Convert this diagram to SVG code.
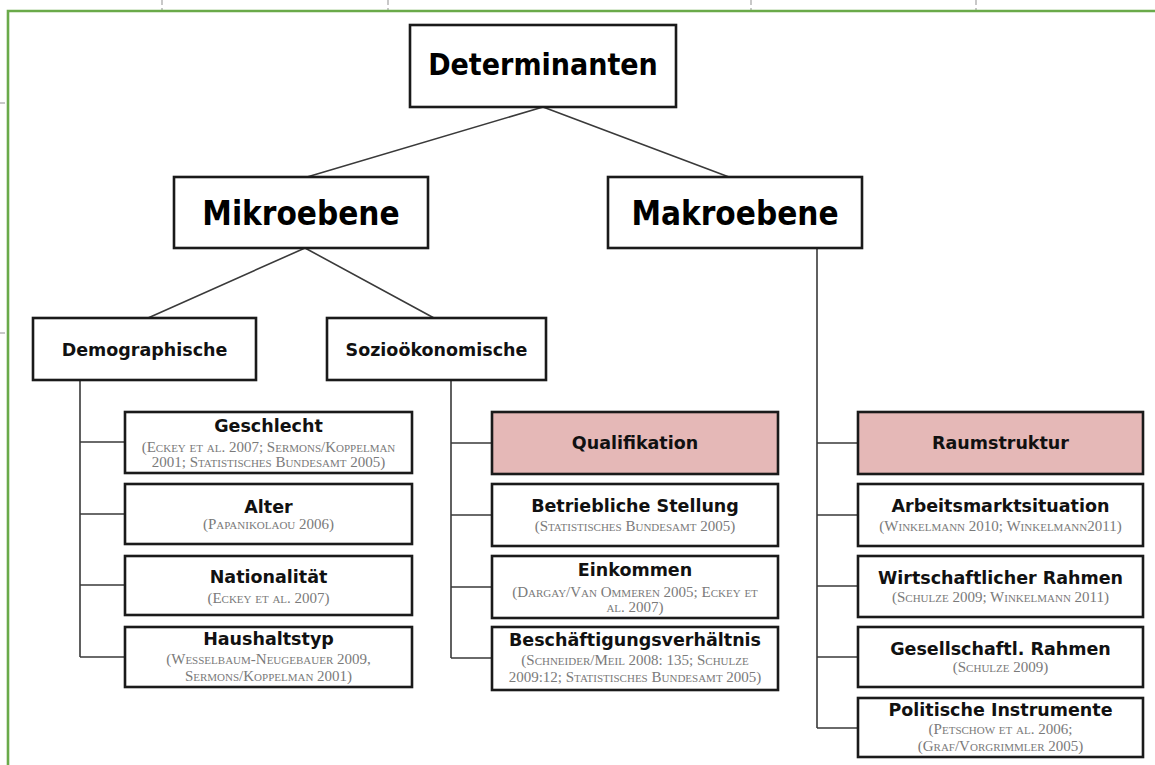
<svg xmlns="http://www.w3.org/2000/svg" width="1155" height="765" viewBox="0 0 1155 765">
<style>
.box{fill:#fff;stroke:#1a1a1a;stroke-width:2.6}
.pink{fill:#e5b8b7}
.conn{stroke:#3a3a3a;stroke-width:1.6;fill:none}
.h1{font-family:'DejaVu Sans Condensed','DejaVu Sans',sans-serif;font-stretch:condensed;font-weight:bold;text-anchor:middle;fill:#000}
.t{font-family:'DejaVu Sans',sans-serif;font-weight:bold;font-size:17.5px;text-anchor:middle;fill:#111}
.r{font-family:'Liberation Serif','Times New Roman',serif;font-variant:small-caps;font-size:15px;text-anchor:middle;fill:#7a7a7a}
.grid{stroke:#c8c8c8;stroke-width:2;stroke-dasharray:5 3;fill:none}
.frame{stroke:#6aaa4a;stroke-width:2.6;fill:none}
</style>
<rect x="0" y="0" width="1155" height="765" fill="#fff"/>
<g id="sheet">
<path class="grid" d="M162 0V10M388 0V10M751 0V10M976 0V10M0 103H7M0 333H7"/>
<path class="frame" d="M8 765V11H1155"/>
</g>
<g id="connectors">
<path class="conn" d="M543 107L307 177M543 107L729 177"/>
<path class="conn" d="M305 248L148 318M305 248L434 318"/>
<path class="conn" d="M80 380V657M80 442H125M80 514H125M80 585H125M80 657H125"/>
<path class="conn" d="M451 380V658M451 443H492M451 515H492M451 587H492M451 658H492"/>
<path class="conn" d="M817 248V728M817 443H858M817 515H858M817 586H858M817 657H858M817 728H858"/>
</g>
<g id="determinanten"><rect class="box" x="410" y="25" width="266" height="82"/><text class="h1" x="543" y="75" font-size="30">Determinanten</text></g>
<g id="mikroebene"><rect class="box" x="174" y="177" width="254" height="71"/><text class="h1" x="301" y="225" font-size="33">Mikroebene</text></g>
<g id="makroebene"><rect class="box" x="608" y="177" width="254" height="71"/><text class="h1" x="735" y="225" font-size="33">Makroebene</text></g>
<g id="demographische"><rect class="box" x="33" y="318" width="223" height="62"/><text class="t" x="144.5" y="356">Demographische</text></g>
<g id="soziooekonomische"><rect class="box" x="327" y="318" width="219" height="62"/><text class="t" x="436.5" y="356">Sozioökonomische</text></g>

<g id="geschlecht"><rect class="box" x="125" y="412" width="287" height="61"/><text class="t" x="268.5" y="432">Geschlecht</text><text class="r" x="268.5" y="452">(Eckey et al. 2007; Sermons/Koppelman</text><text class="r" x="268.5" y="467">2001; Statistisches Bundesamt 2005)</text></g>
<g id="alter"><rect class="box" x="125" y="484" width="287" height="60"/><text class="t" x="268.5" y="513">Alter</text><text class="r" x="268.5" y="529">(Papanikolaou 2006)</text></g>
<g id="nationalitaet"><rect class="box" x="125" y="556" width="287" height="59"/><text class="t" x="268.5" y="583">Nationalität</text><text class="r" x="268.5" y="603">(Eckey et al. 2007)</text></g>
<g id="haushaltstyp"><rect class="box" x="125" y="627" width="287" height="60"/><text class="t" x="268.5" y="645">Haushaltstyp</text><text class="r" x="268.5" y="664">(Wesselbaum-Neugebauer 2009,</text><text class="r" x="268.5" y="681">Sermons/Koppelman 2001)</text></g>

<g id="qualifikation"><rect class="box pink" x="492" y="412" width="286" height="62"/><text class="t" x="635" y="449">Qualifikation</text></g>
<g id="betriebliche-stellung"><rect class="box" x="492" y="484" width="286" height="62"/><text class="t" x="635" y="512">Betriebliche Stellung</text><text class="r" x="635" y="531">(Statistisches Bundesamt 2005)</text></g>
<g id="einkommen"><rect class="box" x="492" y="556" width="286" height="62"/><text class="t" x="635" y="576">Einkommen</text><text class="r" x="635" y="597">(Dargay/Van Ommeren 2005; Eckey et</text><text class="r" x="635" y="612">al. 2007)</text></g>
<g id="beschaeftigungsverhaeltnis"><rect class="box" x="492" y="627" width="286" height="63"/><text class="t" x="635" y="646">Beschäftigungsverhältnis</text><text class="r" x="635" y="665">(Schneider/Meil 2008: 135; Schulze</text><text class="r" x="635" y="682">2009:12; Statistisches Bundesamt 2005)</text></g>

<g id="raumstruktur"><rect class="box pink" x="858" y="412" width="285" height="62"/><text class="t" x="1000.5" y="449">Raumstruktur</text></g>
<g id="arbeitsmarktsituation"><rect class="box" x="858" y="484" width="285" height="62"/><text class="t" x="1000.5" y="512">Arbeitsmarktsituation</text><text class="r" x="1000.5" y="531">(Winkelmann 2010; Winkelmann2011)</text></g>
<g id="wirtschaftlicher-rahmen"><rect class="box" x="858" y="556" width="285" height="61"/><text class="t" x="1000.5" y="584">Wirtschaftlicher Rahmen</text><text class="r" x="1000.5" y="602">(Schulze 2009; Winkelmann 2011)</text></g>
<g id="gesellschaftl-rahmen"><rect class="box" x="858" y="627" width="285" height="60"/><text class="t" x="1000.5" y="655">Gesellschaftl. Rahmen</text><text class="r" x="1000.5" y="672">(Schulze 2009)</text></g>
<g id="politische-instrumente"><rect class="box" x="858" y="698" width="285" height="59"/><text class="t" x="1000.5" y="716">Politische Instrumente</text><text class="r" x="1000.5" y="734">(Petschow et al. 2006;</text><text class="r" x="1000.5" y="751">(Graf/Vorgrimmler 2005)</text></g>
</svg>
